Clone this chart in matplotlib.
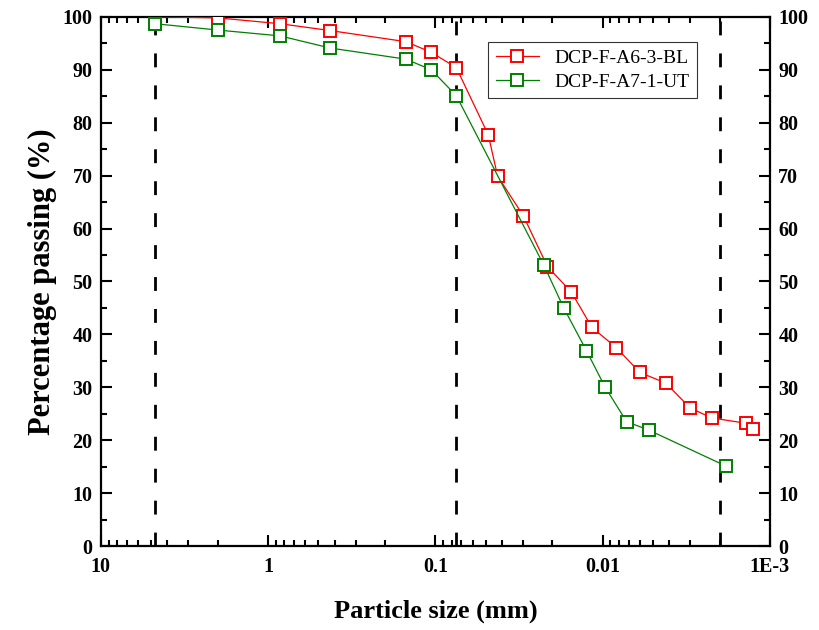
import matplotlib
matplotlib.use('Agg')
import matplotlib.pyplot as plt
from matplotlib.ticker import FixedLocator, FixedFormatter, MultipleLocator, LogLocator, NullFormatter

plt.rcParams['font.family'] = ['Liberation Serif', 'DejaVu Serif']

# sieve sizes (mm) and percentage passing
size_bl = [4.75, 2.0, 0.85, 0.425, 0.15, 0.106, 0.075, 0.0483, 0.0425, 0.0298, 0.0214,
           0.0154, 0.0116, 0.0083, 0.0060, 0.0042, 0.0030, 0.00223, 0.00139, 0.00127]
pass_bl = [100.0, 99.8, 98.7, 97.4, 95.3, 93.3, 90.4, 77.7, 69.9, 62.4, 52.8,
           48.0, 41.3, 37.5, 32.8, 30.8, 26.1, 24.2, 23.2, 22.2]

size_ut = [4.75, 2.0, 0.85, 0.425, 0.15, 0.106, 0.075, 0.0225, 0.0171, 0.0125,
           0.0097, 0.0072, 0.0053, 0.00183]
pass_ut = [98.7, 97.5, 96.4, 94.1, 92.0, 90.0, 85.1, 53.1, 45.0, 36.9,
           30.1, 23.5, 21.9, 15.1]

limits = [4.75, 0.075, 0.002]

x_ticks = [10, 1, 0.1, 0.01, 0.001]
x_labels = ['10', '1', '0.1', '0.01', '1E-3']

fig = plt.figure(figsize=(8.2, 6.3), dpi=100)
ax = fig.add_axes([0.123, 0.1333, 0.816, 0.84])

for xv in limits:
    ax.axvline(xv, color='black', lw=2, linestyle=(0, (5, 6.5)), zorder=1)

ax.plot(size_bl, pass_bl, color='red', lw=0.9, marker='s', markersize=8,
        markerfacecolor='white', markeredgecolor='red', markeredgewidth=1.4,
        label='DCP-F-A6-3-BL', zorder=3)
ax.plot(size_ut, pass_ut, color='green', lw=0.9, marker='s', markersize=8,
        markerfacecolor='white', markeredgecolor='green', markeredgewidth=1.4,
        label='DCP-F-A7-1-UT', zorder=4)

ax.set_xscale('log')
ax.set_xlim(10, 0.001)
ax.set_ylim(0, 100)

ax.xaxis.set_major_locator(FixedLocator(x_ticks))
ax.xaxis.set_major_formatter(FixedFormatter(x_labels))
ax.xaxis.set_minor_locator(LogLocator(base=10, subs=range(2, 10)))
ax.xaxis.set_minor_formatter(NullFormatter())
ax.yaxis.set_major_locator(MultipleLocator(10))
ax.yaxis.set_minor_locator(MultipleLocator(5))

for sp in ax.spines.values():
    sp.set_linewidth(1.6)

ax.tick_params(which='both', direction='in', top=True, right=True,
               labelright=True, width=1.5)
ax.tick_params(which='major', length=8, labelsize=14.5)
ax.tick_params(axis='x', which='major', pad=8)
ax.tick_params(axis='y', which='major', pad=6)
ax.tick_params(which='minor', length=4)
for lab in ax.get_xticklabels() + ax.get_yticklabels():
    lab.set_fontweight('bold')
for t in ax.yaxis.get_major_ticks():
    t.label2.set_fontweight('bold')

ax.set_xlabel('Particle size (mm)', fontsize=19, fontweight='bold', labelpad=16)
ax.set_ylabel('Percentage passing (%)', fontsize=22, fontweight='bold', labelpad=4)

leg = ax.legend(loc='upper right', bbox_to_anchor=(0.891, 0.953), fontsize=14,
                frameon=True, fancybox=False, edgecolor='black',
                handlelength=2.2, borderpad=0.4, labelspacing=0.3,
                borderaxespad=0)
leg.get_frame().set_linewidth(0.8)

plt.savefig('out.png', dpi=100)
